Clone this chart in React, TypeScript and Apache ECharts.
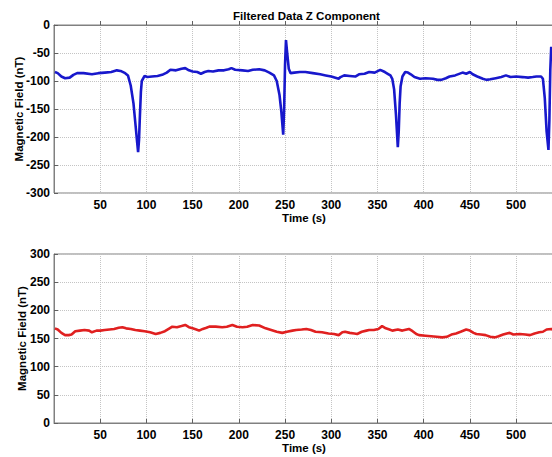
import React, { useEffect, useRef } from "react";
import * as echarts from "echarts";

const chartTitle = "Filtered Data Z Component";
const xAxisName = "Time (s)";
const yAxisName = "Magnetic Field (nT)";

const topTime = [
  1, 4, 8, 12, 17, 21, 25, 32, 41, 48, 55, 62, 68, 72, 77, 80, 83, 86, 88, 90, 91, 92, 93, 94, 95, 98,
  101, 106, 112, 117, 122, 126, 132, 138, 142, 146, 150, 155, 159, 163, 167, 172, 178, 184, 189, 192,
  196, 204, 210, 215, 222, 228, 233, 238, 241, 244, 246, 248, 249, 250, 251, 252, 254, 256, 260, 266,
  272, 280, 288, 294, 300, 308, 310, 314, 320, 326, 330, 336, 341, 347, 353, 358, 362, 364, 366, 368, 370,
  372, 373, 374, 375, 377, 380, 383, 386, 390, 396, 402, 410, 415, 419, 424, 428, 434, 442, 446, 450, 453,
  458, 464, 468, 472, 478, 484, 489, 494, 500, 507, 513, 518, 522, 527, 529, 531, 533, 535, 536, 537,
  538, 540, 542,
];
const topField = [
  -84, -86, -92, -95, -94, -89, -86, -86, -88, -86, -85, -84, -81, -82, -86, -90, -108, -140, -175, -210, -227, -205, -160, -120, -100, -91,
  -93, -92, -91, -89, -85, -80, -81, -78, -77, -81, -83, -84, -87, -84, -82, -83, -81, -81, -79, -77,
  -80, -81, -82, -80, -79, -81, -85, -90, -100, -125, -155, -196, -150, -70, -27, -45, -78, -86, -85, -84,
  -84, -86, -88, -90, -92, -96, -93, -90, -91, -92, -88, -87, -84, -85, -80, -84, -88, -90, -96, -115, -160,
  -218, -190, -140, -110, -92, -84, -85, -88, -93, -96, -95, -96, -98, -98, -95, -92, -90, -85, -87, -84, -88,
  -92, -96, -98, -97, -95, -93, -90, -93, -92, -93, -94, -93, -92, -92, -96, -130, -190, -223, -170, -80,
  -39, -58, -80,
];

const bottomTime = [
  1, 4, 8, 12, 16, 19, 23, 28, 33, 38, 41, 46, 50, 55, 60, 65, 70, 74, 78, 83, 88, 93, 98, 104, 110,
  115, 120, 125, 128, 133, 138, 142, 146, 150, 154, 157, 161, 165, 168, 175, 182, 187, 193, 198, 204,
  209, 215, 222, 229, 235, 241, 247, 252, 258, 262, 268, 273, 278, 283, 290, 297, 303, 308, 312, 315,
  320, 325, 328, 333, 338, 341, 346, 351, 355, 359, 363, 366, 372, 377, 384, 388, 392, 395, 402, 408,
  414, 420, 425, 430, 435, 440, 446, 450, 454, 457, 462, 467, 472, 477, 481, 486, 490, 493, 497, 504,
  510, 515, 520, 525, 529, 533, 538, 541,
];
const bottomField = [
  168, 166, 160, 156, 156, 157, 163, 164, 165, 164, 161, 164, 164, 165, 166, 167, 169, 170, 168, 167, 165, 164, 163, 161, 158,
  160, 163, 168, 171, 170, 172, 174, 170, 168, 166, 164, 167, 169, 171, 171, 170, 171, 174, 171, 170,
  171, 174, 173, 168, 165, 162, 160, 162, 164, 165, 166, 167, 165, 162, 161, 159, 158, 156, 161, 162,
  160, 159, 158, 162, 164, 165, 165, 167, 172, 168, 166, 164, 166, 164, 167, 163, 158, 156, 155, 154,
  153, 152, 153, 157, 159, 162, 166, 164, 160, 158, 157, 156, 153, 152, 154, 157, 159, 160, 157, 158,
  157, 156, 159, 161, 162, 166, 167, 165,
];

const FONT = "'Liberation Sans', Arial, Helvetica, sans-serif";

function xAxisCfg(gridIndex: number) {
  return {
    type: "value" as const,
    gridIndex,
    min: 0,
    max: 541,
    interval: 50,
    name: xAxisName,
    nameLocation: "middle" as const,
    nameGap: 19,
    nameMoveOverlap: false,
    nameTextStyle: { color: "#000", fontFamily: FONT, fontWeight: "bold" as const, fontSize: 11.5 },
    axisLine: { show: true, lineStyle: { color: "#808080", width: 1 } },
    axisTick: { show: true, inside: true, length: 4, lineStyle: { color: "#606060" } },
    axisLabel: {
      showMinLabel: false,
      showMaxLabel: false,
      margin: 6,
      color: "#000",
      fontFamily: FONT,
      fontWeight: "bold" as const,
      fontSize: 12,
    },
    splitLine: { show: true, lineStyle: { type: "dotted" as const, color: "#c4c4c4", width: 1 } },
  };
}

function yAxisCfg(gridIndex: number, min: number, max: number, gap: number) {
  return {
    type: "value" as const,
    gridIndex,
    min,
    max,
    interval: 50,
    name: yAxisName,
    nameLocation: "middle" as const,
    nameGap: gap,
    nameMoveOverlap: false,
    nameTextStyle: { color: "#000", fontFamily: FONT, fontWeight: "bold" as const, fontSize: 11.5 },
    axisLine: { show: true, lineStyle: { color: "#808080", width: 1 } },
    axisTick: { show: true, inside: true, length: 4, lineStyle: { color: "#606060" } },
    axisLabel: { margin: 4, color: "#000", fontFamily: FONT, fontWeight: "bold" as const, fontSize: 12 },
    splitLine: { show: true, lineStyle: { type: "dotted" as const, color: "#c4c4c4", width: 1 } },
  };
}

export default function App() {
  const ref = useRef<HTMLDivElement>(null);

  useEffect(() => {
    if (!ref.current) return;
    const chart = echarts.init(ref.current, undefined, { renderer: "svg" });
    chart.setOption({
      animation: false,
      backgroundColor: "#ffffff",
      title: {
        text: chartTitle,
        left: 228,
        top: 5,
        textStyle: { color: "#000", fontFamily: FONT, fontWeight: "bold", fontSize: 11.5 },
      },
      grid: [
        {
          left: 54, right: -2, top: 25, height: 168, show: true, borderColor: "#808080", borderWidth: 1,
          containLabel: false, outerBoundsMode: "none",
        },
        {
          left: 54, right: -2, top: 254, height: 169, show: true, borderColor: "#808080", borderWidth: 1,
          containLabel: false, outerBoundsMode: "none",
        },
      ],
      xAxis: [xAxisCfg(0), xAxisCfg(1)],
      yAxis: [yAxisCfg(0, -300, 0, 29), yAxisCfg(1, 0, 300, 26)],
      series: [
        {
          type: "line",
          xAxisIndex: 0,
          yAxisIndex: 0,
          data: topTime.map((t, i) => [t, topField[i]]),
          showSymbol: false,
          lineStyle: { color: "#1818cc", width: 2.6 },
          itemStyle: { color: "#1818cc" },
          clip: true,
        },
        {
          type: "line",
          xAxisIndex: 1,
          yAxisIndex: 1,
          data: bottomTime.map((t, i) => [t, bottomField[i]]),
          showSymbol: false,
          lineStyle: { color: "#e02020", width: 2.6 },
          itemStyle: { color: "#e02020" },
          clip: true,
        },
      ],
    });
    return () => chart.dispose();
  }, []);

  return (
    <div
      ref={ref}
      style={{ position: "absolute", left: 0, top: 0, width: 552, height: 457, background: "#fff" }}
    />
  );
}
